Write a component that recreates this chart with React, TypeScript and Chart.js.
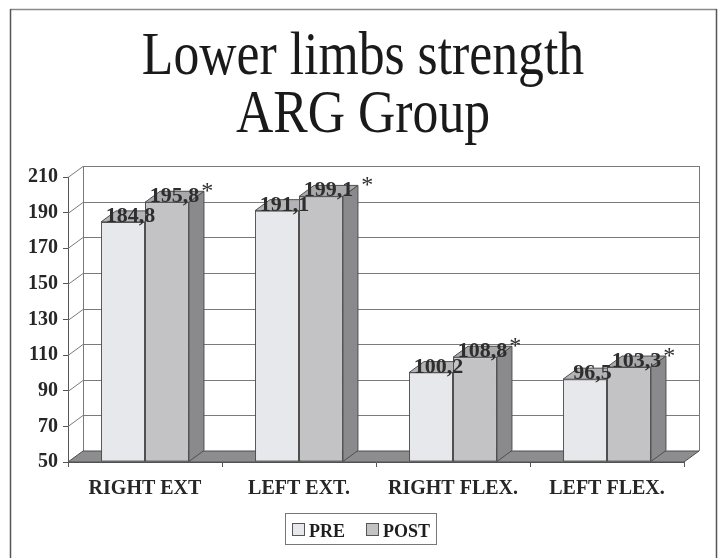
import React, { useEffect, useRef } from "react";
import { Chart, registerables } from "chart.js";

Chart.register(...registerables);

const categories = ["RIGHT EXT", "LEFT EXT.", "RIGHT FLEX.", "LEFT FLEX."];
const seriesNames = ["PRE", "POST"];
const preValues = [184.8, 191.1, 100.2, 96.5];
const postValues = [195.8, 199.1, 108.8, 103.3];
const postMarks = ["*", " *", "*", "*"];
const titleLines = ["Lower limbs strength", "ARG Group"];
const yMin = 50;
const yMax = 210;
const yStep = 20;

const FRONT = ["#e7e8eb", "#c3c3c6"];
const TOPS = ["#b4b4b7", "#a9a9ac"];
const SIDE = "#8a8a8d";
const FLOOR = "#8d8d90";
const EDGE = "#4f4f4f";
const GRID = "#7a7a7a";
const DX = 15;
const DY = -11;
const SERIF = "'Liberation Serif', 'Times New Roman', serif";

const fmt = (v: number) => v.toFixed(1).replace(".", ",");

const poly = (ctx: CanvasRenderingContext2D, pts: number[][], fill: string, stroke: string) => {
  ctx.beginPath();
  ctx.moveTo(pts[0][0], pts[0][1]);
  for (let i = 1; i < pts.length; i++) ctx.lineTo(pts[i][0], pts[i][1]);
  ctx.closePath();
  ctx.fillStyle = fill;
  ctx.fill();
  ctx.strokeStyle = stroke;
  ctx.lineWidth = 1;
  ctx.stroke();
};

const threeD = {
  id: "threeD",
  beforeDraw(chart: any) {
    const ctx: CanvasRenderingContext2D = chart.ctx;
    ctx.save();
    ctx.fillStyle = "#ffffff";
    ctx.fillRect(0, 0, chart.width, chart.height);
    // outer frame
    ctx.strokeStyle = "#8a8a8a";
    ctx.lineWidth = 1.5;
    ctx.beginPath();
    ctx.moveTo(10, 9.5);
    ctx.lineTo(717, 9.5);
    ctx.stroke();
    ctx.strokeStyle = "#555";
    ctx.beginPath();
    ctx.moveTo(10.5, 9);
    ctx.lineTo(10.5, 558);
    ctx.moveTo(716.5, 9);
    ctx.lineTo(716.5, 558);
    ctx.stroke();
    // title
    ctx.fillStyle = "#1a1a1a";
    ctx.font = `62px ${SERIF}`;
    ctx.textAlign = "center";
    ctx.textBaseline = "alphabetic";
    const baselines = [74, 132];
    titleLines.forEach((t, i) => {
      ctx.save();
      ctx.translate(363, baselines[i]);
      ctx.scale(0.834, 1);
      ctx.fillText(t, 0, 0);
      ctx.restore();
    });
    ctx.restore();
  },
  beforeDatasetsDraw(chart: any) {
    const ctx: CanvasRenderingContext2D = chart.ctx;
    const { left, right, bottom, top } = chart.chartArea;
    const ys = chart.scales.y;
    ctx.save();
    ctx.lineWidth = 1;
    ctx.strokeStyle = GRID;
    for (let v = yMin + yStep; v <= yMax; v += yStep) {
      const y = Math.round(ys.getPixelForValue(v)) + 0.5;
      ctx.beginPath();
      ctx.moveTo(left, y);
      ctx.lineTo(left + DX, y + DY);
      ctx.lineTo(right + DX, y + DY);
      ctx.stroke();
    }
    ctx.beginPath();
    ctx.moveTo(left + DX + 0.5, Math.round(top) + DY);
    ctx.lineTo(left + DX + 0.5, bottom + DY);
    ctx.moveTo(right + DX + 0.5, Math.round(top) + DY);
    ctx.lineTo(right + DX + 0.5, bottom + DY);
    ctx.stroke();
    // floor
    poly(
      ctx,
      [
        [left, bottom],
        [right, bottom],
        [right + DX, bottom + DY],
        [left + DX, bottom + DY],
      ],
      FLOOR,
      EDGE
    );
    // bar tops and sides
    chart.data.datasets.forEach((ds: any, di: number) => {
      const meta = chart.getDatasetMeta(di);
      meta.data.forEach((bar: any) => {
        const l = bar.x - bar.width / 2;
        const r = bar.x + bar.width / 2;
        const t = bar.y;
        const b = Math.min(bar.base, bottom);
        poly(ctx, [[l, t], [r, t], [r + DX, t + DY], [l + DX, t + DY]], TOPS[di], EDGE);
        poly(ctx, [[r, t], [r + DX, t + DY], [r + DX, b + DY], [r, b]], SIDE, EDGE);
      });
    });
    ctx.restore();
  },
  afterDatasetsDraw(chart: any) {
    const ctx: CanvasRenderingContext2D = chart.ctx;
    ctx.save();
    ctx.textBaseline = "alphabetic";
    chart.data.datasets.forEach((ds: any, di: number) => {
      const meta = chart.getDatasetMeta(di);
      meta.data.forEach((bar: any, i: number) => {
        const txt = fmt(ds.data[i]);
        ctx.font = `bold 22px ${SERIF}`;
        ctx.fillStyle = "#2e2e2e";
        ctx.textAlign = "center";
        const cx = bar.x + DX / 2;
        const by = bar.y;
        ctx.fillText(txt, cx, by);
        if (di === 1) {
          const w = ctx.measureText(txt).width;
          ctx.font = `24px ${SERIF}`;
          ctx.textAlign = "left";
          ctx.fillText(postMarks[i], cx + w / 2 + 2, by - 4);
        }
      });
    });
    ctx.restore();
  },
  afterDraw(chart: any) {
    const ctx: CanvasRenderingContext2D = chart.ctx;
    ctx.save();
    ctx.strokeStyle = "#777";
    ctx.lineWidth = 1;
    ctx.strokeRect(285.5, 513.5, 151, 31);
    const xs = [292, 366];
    ctx.font = `bold 18px ${SERIF}`;
    ctx.textBaseline = "alphabetic";
    ctx.textAlign = "left";
    seriesNames.forEach((n, i) => {
      ctx.fillStyle = FRONT[i];
      ctx.fillRect(xs[i] + 0.5, 523.5, 12, 12);
      ctx.strokeStyle = "#555";
      ctx.strokeRect(xs[i] + 0.5, 523.5, 12, 12);
      ctx.fillStyle = "#1e1e1e";
      ctx.fillText(n, xs[i] + 17, 536.5);
    });
    ctx.restore();
  },
};

export default function App() {
  const ref = useRef<HTMLCanvasElement | null>(null);
  useEffect(() => {
    if (!ref.current) return;
    const mk = (i: number, data: number[]) => ({
      label: seriesNames[i],
      data,
      base: yMin,
      backgroundColor: FRONT[i],
      borderColor: EDGE,
      borderWidth: 1,
      borderSkipped: false,
      barPercentage: 1,
      categoryPercentage: 0.571,
    });
    const chart = new Chart(ref.current, {
      type: "bar",
      data: {
        labels: categories,
        datasets: [mk(0, preValues), mk(1, postValues)],
      },
      options: {
        responsive: false,
        animation: false,
        devicePixelRatio: 1,
        layout: { padding: { top: 177, right: 36, left: 0, bottom: 0 } },
        plugins: {
          legend: { display: false },
          title: { display: false },
          tooltip: { enabled: false },
        },
        scales: {
          y: {
            min: yMin,
            max: yMax,
            ticks: {
              stepSize: yStep,
              font: { family: SERIF, size: 20, weight: "bold" },
              color: "#262626",
              padding: 5,
            },
            grid: { drawOnChartArea: false, drawTicks: true, tickLength: 5, color: "#555" },
            border: { display: true, color: "#555" },
            afterFit: (s: any) => {
              s.width = 68;
            },
          },
          x: {
            grid: { drawOnChartArea: false, drawTicks: true, tickLength: 5, color: "#555", offset: true },
            border: { display: true, color: "#555" },
            ticks: {
              font: { family: SERIF, size: 20, weight: "bold" },
              color: "#262626",
              padding: 10,
              maxRotation: 0,
              autoSkip: false,
            },
            afterFit: (s: any) => {
              s.height = 96;
            },
          },
        },
      },
      plugins: [threeD],
    } as any);
    return () => chart.destroy();
  }, []);
  return (
    <div style={{ position: "fixed", left: 0, top: 0, width: 720, height: 558 }}>
      <canvas ref={ref} width={720} height={558} style={{ display: "block" }} />
    </div>
  );
}
